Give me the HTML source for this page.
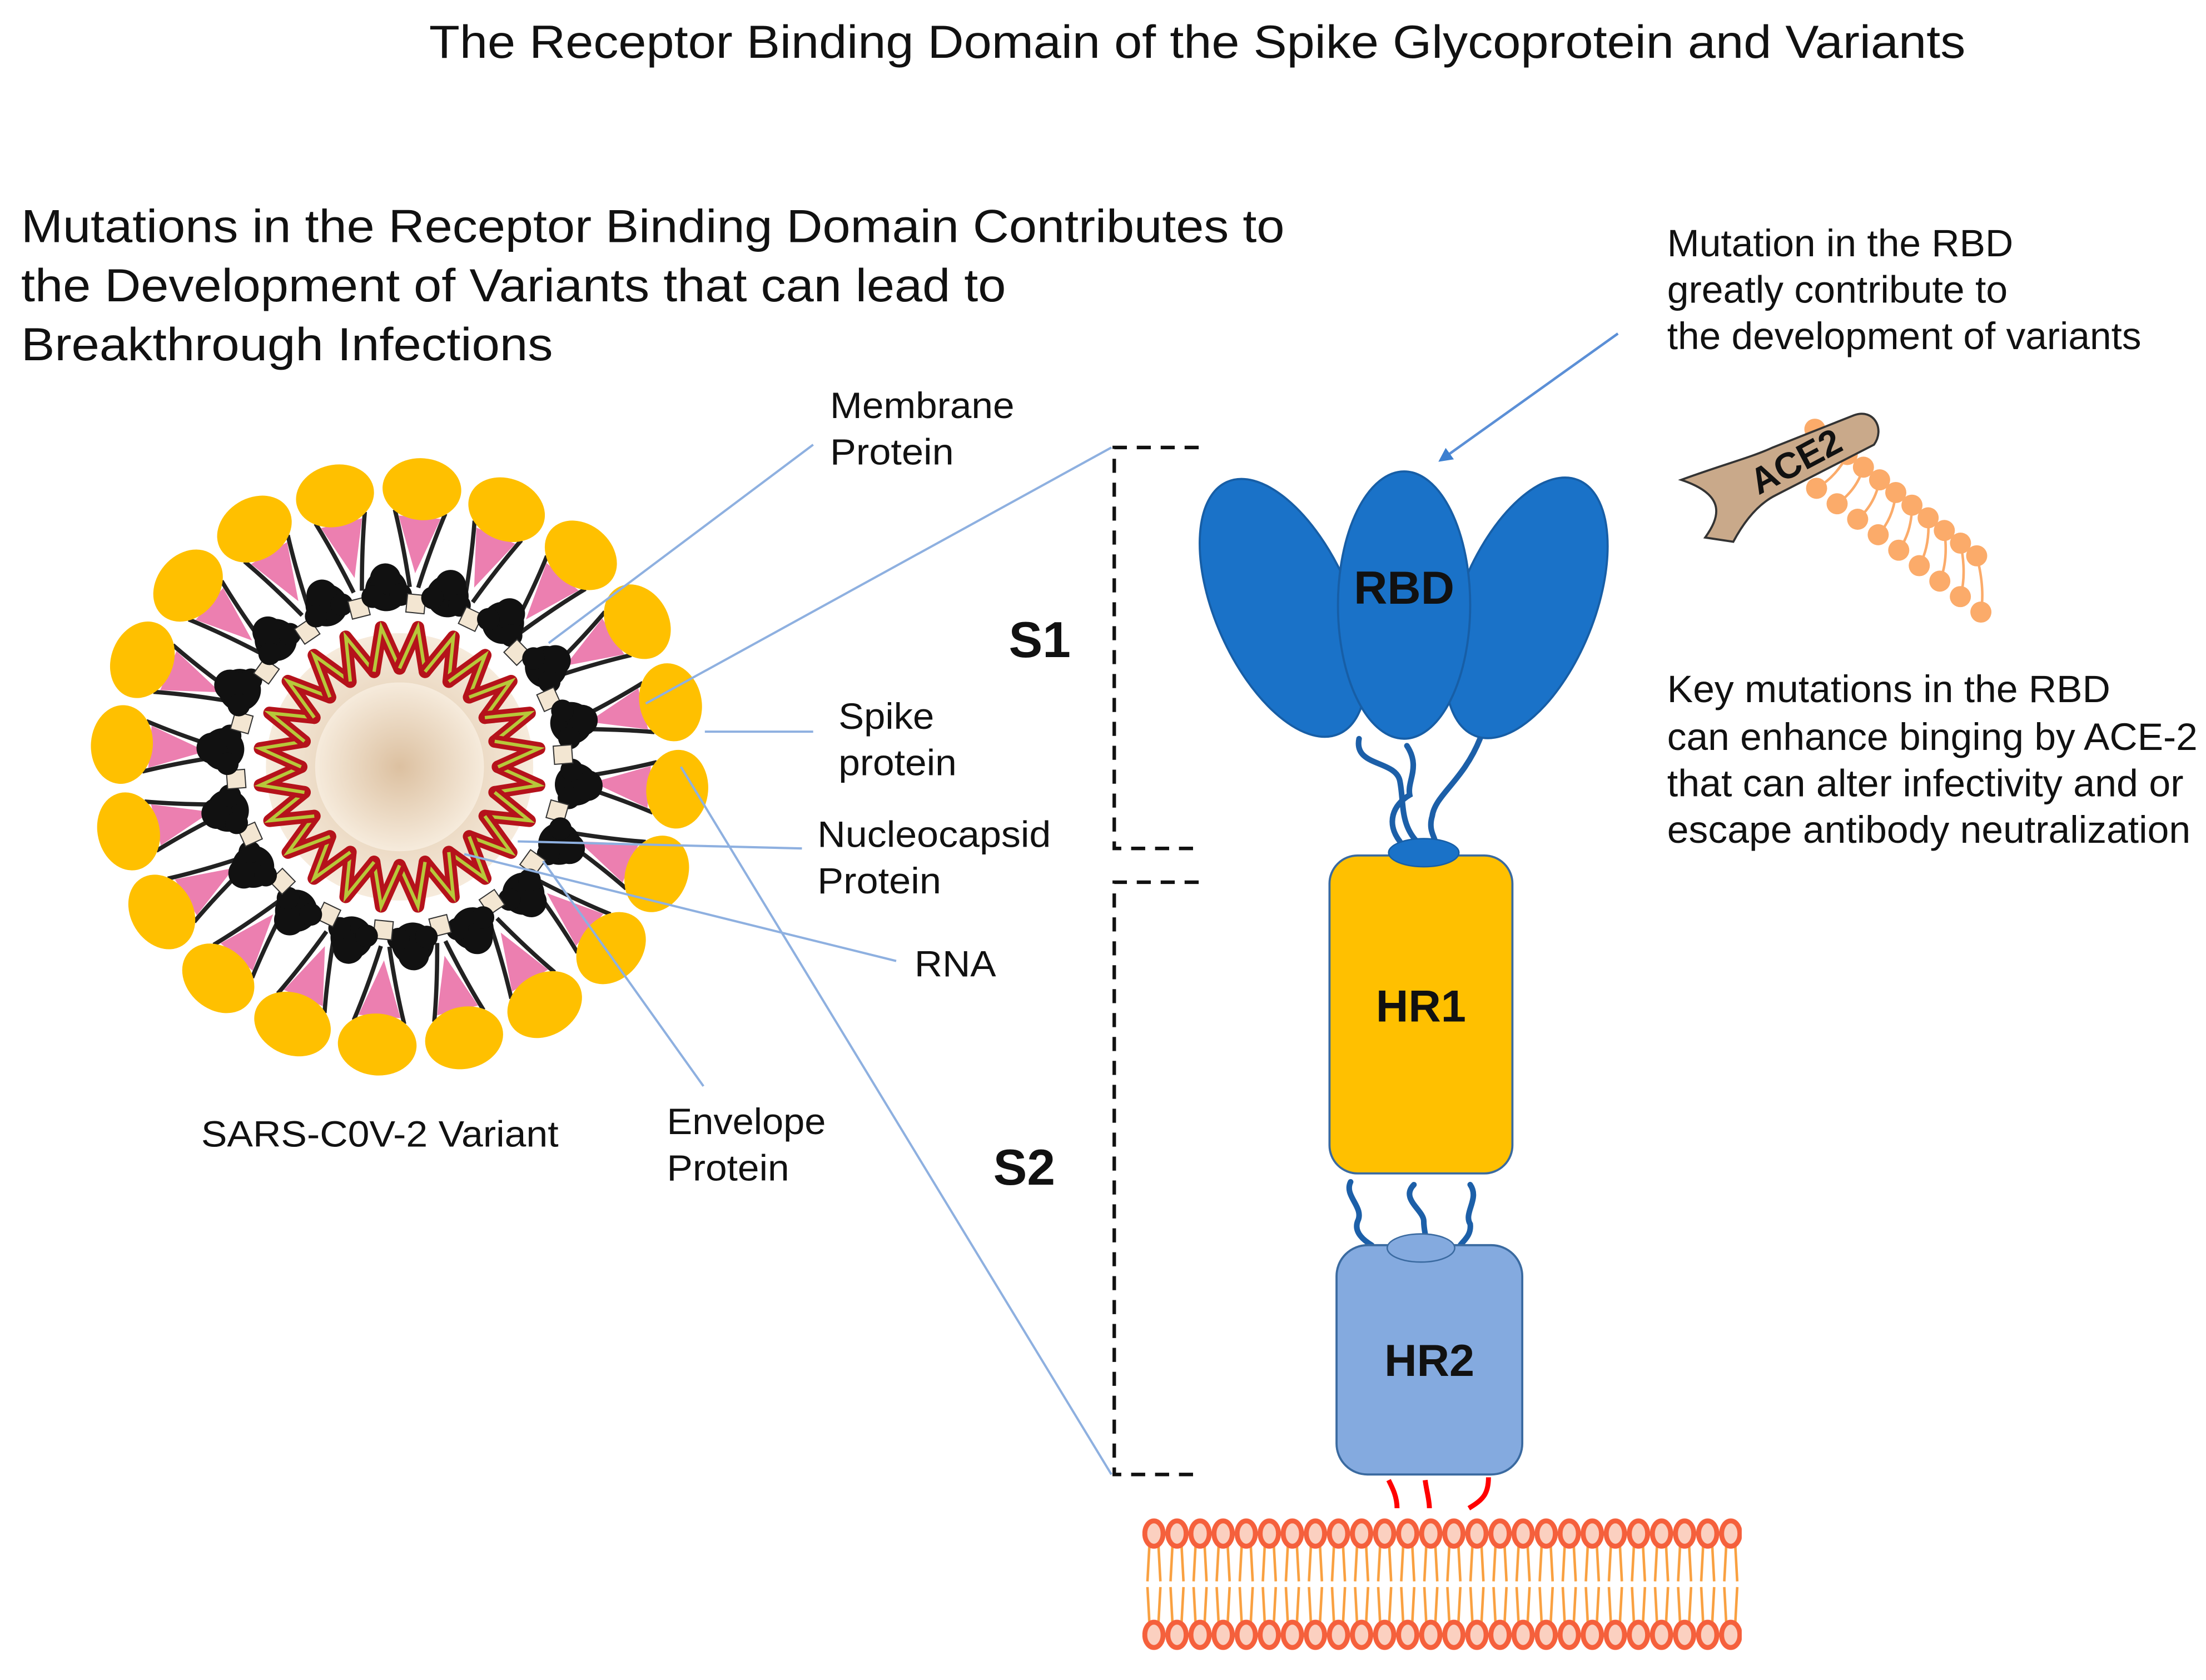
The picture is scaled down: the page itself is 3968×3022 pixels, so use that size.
<!DOCTYPE html>
<html><head><meta charset="utf-8"><style>
html,body{margin:0;padding:0;background:#fff;}
svg{display:block;}
text{font-family:"Liberation Sans",Arial,sans-serif;fill:#111;}
</style></head><body>
<svg width="3968" height="3022" viewBox="0 0 1568 1194" xmlns="http://www.w3.org/2000/svg" xmlns:xlink="http://www.w3.org/1999/xlink">
<defs>
<radialGradient id="core" cx="50%" cy="50%" r="50%"><stop offset="0" stop-color="#dcc0a0"/><stop offset="1" stop-color="#f6ebdc"/></radialGradient>
<marker id="ar" markerWidth="10" markerHeight="10" refX="8" refY="5" orient="auto" markerUnits="userSpaceOnUse"><path d="M0,0 L10,5 L0,10 z" fill="#3c7fd0"/></marker>
<g id="spk">
<polygon points="178,-15 178,15 138,0" fill="#ec7fb0"/>
<path d="M128,-3 Q158,-10 182,-18 M128,3 Q158,10 182,18" stroke="#222" stroke-width="3" fill="none"/>
<ellipse cx="198" cy="0" rx="22" ry="28" fill="#ffc000"/>
</g>
<g id="blb">
<circle cx="126" cy="0" r="15" fill="#111"/>
<circle cx="134" cy="0" r="11" fill="#111"/>
<circle cx="122" cy="-10" r="8" fill="#111"/>
<circle cx="122" cy="10" r="8" fill="#111"/>
<g transform="rotate(10)"><rect x="110" y="-6.5" width="13" height="13" fill="#f3e6d2" stroke="#333" stroke-width="0.8"/></g>
</g>
<g id="zz">
<path d="M70,0 L99.14,13.05 L67.61,18.12" fill="none" stroke="#b5121b" stroke-width="9" stroke-linejoin="round" stroke-linecap="round"/>
<path d="M70,0 L99.14,13.05 L67.61,18.12" fill="none" stroke="#b7c83a" stroke-width="2.4"/>
</g>
<pattern id="lip" x="812" y="1076" width="16.4" height="100" patternUnits="userSpaceOnUse">
<path d="M5,22 L3.6,48 M11.4,22 L12.8,48 M3.6,52 L5,78 M12.8,52 L11.4,78" stroke="#f9a040" stroke-width="1.8" fill="none"/>
<ellipse cx="8.2" cy="14" rx="6.5" ry="9" fill="#fbd0c0" stroke="#f5603c" stroke-width="3.5"/>
<ellipse cx="8.2" cy="86" rx="6.5" ry="9" fill="#fbd0c0" stroke="#f5603c" stroke-width="3.5"/>
</pattern>
</defs>
<rect width="1568" height="1194" fill="#fff"/>
<text x="305" y="41" font-size="33" textLength="1092" lengthAdjust="spacingAndGlyphs">The Receptor Binding Domain of the Spike Glycoprotein and Variants</text>
<text x="15" y="172" font-size="33" textLength="898" lengthAdjust="spacingAndGlyphs">Mutations in the Receptor Binding Domain Contributes to</text>
<text x="15" y="214" font-size="33" textLength="700" lengthAdjust="spacingAndGlyphs">the Development of Variants that can lead to</text>
<text x="15" y="256" font-size="33" textLength="378" lengthAdjust="spacingAndGlyphs">Breakthrough Infections</text>

<!-- virus -->
<g transform="translate(284,545)">
<use href="#spk" transform="rotate(4.6)"/><use href="#spk" transform="rotate(22.6)"/><use href="#spk" transform="rotate(40.6)"/><use href="#spk" transform="rotate(58.6)"/><use href="#spk" transform="rotate(76.6)"/>
<use href="#spk" transform="rotate(94.6)"/><use href="#spk" transform="rotate(112.6)"/><use href="#spk" transform="rotate(130.6)"/><use href="#spk" transform="rotate(148.6)"/><use href="#spk" transform="rotate(166.6)"/>
<use href="#spk" transform="rotate(184.6)"/><use href="#spk" transform="rotate(202.6)"/><use href="#spk" transform="rotate(220.6)"/><use href="#spk" transform="rotate(238.6)"/><use href="#spk" transform="rotate(256.6)"/>
<use href="#spk" transform="rotate(274.6)"/><use href="#spk" transform="rotate(292.6)"/><use href="#spk" transform="rotate(310.6)"/><use href="#spk" transform="rotate(328.6)"/><use href="#spk" transform="rotate(346.6)"/>
<use href="#blb" transform="rotate(5.7)"/><use href="#blb" transform="rotate(25.7)"/><use href="#blb" transform="rotate(45.7)"/><use href="#blb" transform="rotate(65.7)"/><use href="#blb" transform="rotate(85.7)"/><use href="#blb" transform="rotate(105.7)"/>
<use href="#blb" transform="rotate(125.7)"/><use href="#blb" transform="rotate(145.7)"/><use href="#blb" transform="rotate(165.7)"/><use href="#blb" transform="rotate(185.7)"/><use href="#blb" transform="rotate(205.7)"/><use href="#blb" transform="rotate(225.7)"/>
<use href="#blb" transform="rotate(245.7)"/><use href="#blb" transform="rotate(265.7)"/><use href="#blb" transform="rotate(285.7)"/><use href="#blb" transform="rotate(305.7)"/><use href="#blb" transform="rotate(325.7)"/><use href="#blb" transform="rotate(345.7)"/>
<circle cx="0" cy="0" r="95" fill="url(#core)"/>
<use href="#zz" transform="rotate(0)"/><use href="#zz" transform="rotate(15)"/><use href="#zz" transform="rotate(30)"/><use href="#zz" transform="rotate(45)"/><use href="#zz" transform="rotate(60)"/><use href="#zz" transform="rotate(75)"/>
<use href="#zz" transform="rotate(90)"/><use href="#zz" transform="rotate(105)"/><use href="#zz" transform="rotate(120)"/><use href="#zz" transform="rotate(135)"/><use href="#zz" transform="rotate(150)"/><use href="#zz" transform="rotate(165)"/>
<use href="#zz" transform="rotate(180)"/><use href="#zz" transform="rotate(195)"/><use href="#zz" transform="rotate(210)"/><use href="#zz" transform="rotate(225)"/><use href="#zz" transform="rotate(240)"/><use href="#zz" transform="rotate(255)"/>
<use href="#zz" transform="rotate(270)"/><use href="#zz" transform="rotate(285)"/><use href="#zz" transform="rotate(300)"/><use href="#zz" transform="rotate(315)"/><use href="#zz" transform="rotate(330)"/><use href="#zz" transform="rotate(345)"/>
<circle cx="0" cy="0" r="60" fill="url(#core)"/>
</g>

<!-- leader lines -->
<g stroke="#8eb0e0" stroke-width="1.6" fill="none">
<line x1="390" y1="457" x2="578" y2="316"/>
<line x1="459" y1="500" x2="790" y2="318"/>
<line x1="501" y1="520" x2="578" y2="520"/>
<line x1="484" y1="545" x2="790" y2="1048"/>
<line x1="368" y1="598" x2="570" y2="603"/>
<line x1="330" y1="607" x2="637" y2="683"/>
<line x1="386" y1="612" x2="500" y2="772"/>
</g>
<g font-size="26">
<text x="590" y="297" textLength="131" lengthAdjust="spacingAndGlyphs">Membrane</text><text x="590" y="330" textLength="88" lengthAdjust="spacingAndGlyphs">Protein</text>
<text x="596" y="518" textLength="68" lengthAdjust="spacingAndGlyphs">Spike</text><text x="596" y="551" textLength="84" lengthAdjust="spacingAndGlyphs">protein</text>
<text x="581" y="602" textLength="166" lengthAdjust="spacingAndGlyphs">Nucleocapsid</text><text x="581" y="635" textLength="88" lengthAdjust="spacingAndGlyphs">Protein</text>
<text x="650" y="694" textLength="58" lengthAdjust="spacingAndGlyphs">RNA</text>
<text x="474" y="806" textLength="113" lengthAdjust="spacingAndGlyphs">Envelope</text><text x="474" y="839" textLength="87" lengthAdjust="spacingAndGlyphs">Protein</text>
<text x="143" y="815" textLength="254" lengthAdjust="spacingAndGlyphs">SARS-C0V-2 Variant</text>
</g>

<!-- brackets -->
<g stroke="#111" stroke-width="2.5" stroke-dasharray="10,7" fill="none">
<path d="M852,318 H792 V603 H852"/>
<path d="M852,627 H792 V1048 H852"/>
</g>
<text x="717" y="467" font-size="36" font-weight="bold">S1</text>
<text x="706" y="842" font-size="36" font-weight="bold">S2</text>

<!-- linkers -->
<g stroke="#1c5fa8" stroke-width="4" fill="none" stroke-linecap="round">
<path d="M966,525 C962,545 992,540 995,555 C998,570 995,585 1007,598"/>
<path d="M1000,530 C1010,545 1000,555 1002,565 C990,572 985,585 995,598"/>
<path d="M1052,525 C1040,555 1020,565 1018,580 C1015,590 1020,595 1020,598"/>
<path d="M960,840 C955,850 970,858 965,868 C962,876 970,882 975,885"/>
<path d="M1005,842 C995,852 1012,860 1012,868 C1012,876 1015,882 1013,885"/>
<path d="M1045,842 C1052,852 1040,862 1045,870 C1046,878 1040,882 1038,885"/>
</g>
<!-- RBD -->
<g fill="#1a72c8" stroke="#175ea6" stroke-width="1.5">
<ellipse cx="912" cy="432" rx="48" ry="98" transform="rotate(-24 912 432)"/>
<ellipse cx="1085" cy="432" rx="48" ry="98" transform="rotate(22 1085 432)"/>
<ellipse cx="998" cy="430" rx="47" ry="95"/>
</g>
<text x="998" y="429" font-size="33" font-weight="bold" text-anchor="middle">RBD</text>
<rect x="945" y="608" width="130" height="226" rx="20" fill="#ffc000" stroke="#3a6aa0" stroke-width="1.5"/>
<ellipse cx="1012" cy="606" rx="25" ry="10" fill="#1a72c8" stroke="#175ea6"/>
<text x="1010" y="726" font-size="32" font-weight="bold" text-anchor="middle">HR1</text>
<rect x="950" y="885" width="132" height="163" rx="22" fill="#84aadf" stroke="#3a6aa0" stroke-width="1.5"/>
<ellipse cx="1010" cy="887" rx="24" ry="10" fill="#84aadf" stroke="#3a6aa0"/>
<text x="1016" y="978" font-size="32" font-weight="bold" text-anchor="middle">HR2</text>
<g stroke="#f00" stroke-width="3.5" fill="none">
<path d="M987,1052 C990,1058 993,1064 993,1072"/>
<path d="M1013,1052 C1014,1060 1016,1066 1016,1072"/>
<path d="M1058,1050 C1058,1062 1054,1066 1044,1072"/>
</g>
<rect x="812" y="1076" width="426" height="100" fill="url(#lip)"/>

<!-- right side -->
<g font-size="27">
<text x="1185" y="182" textLength="246" lengthAdjust="spacingAndGlyphs">Mutation in the RBD</text>
<text x="1185" y="215" textLength="242" lengthAdjust="spacingAndGlyphs">greatly contribute to</text>
<text x="1185" y="248" textLength="337" lengthAdjust="spacingAndGlyphs">the development of variants</text>
<text x="1185" y="499" textLength="315" lengthAdjust="spacingAndGlyphs">Key mutations in the RBD</text>
<text x="1185" y="533" textLength="377" lengthAdjust="spacingAndGlyphs">can enhance binging by ACE-2</text>
<text x="1185" y="566" textLength="367" lengthAdjust="spacingAndGlyphs">that can alter infectivity and or</text>
<text x="1185" y="599" textLength="372" lengthAdjust="spacingAndGlyphs">escape antibody neutralization</text>
</g>
<line x1="1150" y1="237" x2="1024" y2="327" stroke="#5b8fd6" stroke-width="1.8" marker-end="url(#ar)"/>
<g stroke="#fbab6a" stroke-width="1.8" fill="none">
<path d="M1290,305 Q1280,318 1262,325 M1301.5,314 Q1293,328 1276.6,336 M1313,323 Q1306,338 1291.2,347 M1324.5,332 Q1320,348 1305.8,358 M1336,341 Q1333,358 1320.4,369 M1347.5,350 Q1346,368 1335,380 M1359,359 Q1359,378 1349.6,391 M1370.5,368 Q1372,388 1364.2,402 M1382,377 Q1385,398 1378.8,413 M1393.5,386 Q1398,408 1393.4,424 M1405,395 Q1411,418 1408,435"/>
</g>
<g fill="#fbab6a">
<circle cx="1290" cy="305" r="7.5"/><circle cx="1301.5" cy="314" r="7.5"/><circle cx="1313" cy="323" r="7.5"/><circle cx="1324.5" cy="332" r="7.5"/><circle cx="1336" cy="341" r="7.5"/><circle cx="1347.5" cy="350" r="7.5"/><circle cx="1359" cy="359" r="7.5"/><circle cx="1370.5" cy="368" r="7.5"/><circle cx="1382" cy="377" r="7.5"/><circle cx="1393.5" cy="386" r="7.5"/><circle cx="1405" cy="395" r="7.5"/>
<circle cx="1262" cy="325" r="7.5"/><circle cx="1276.6" cy="336" r="7.5"/><circle cx="1291.2" cy="347" r="7.5"/><circle cx="1305.8" cy="358" r="7.5"/><circle cx="1320.4" cy="369" r="7.5"/><circle cx="1335" cy="380" r="7.5"/><circle cx="1349.6" cy="391" r="7.5"/><circle cx="1364.2" cy="402" r="7.5"/><circle cx="1378.8" cy="413" r="7.5"/><circle cx="1393.4" cy="424" r="7.5"/><circle cx="1408" cy="435" r="7.5"/>
</g>
<path d="M1195,341 C1225,330 1245,325 1260,318 L1318,295 C1332,290 1340,305 1332,316 L1262,352 C1250,358 1240,370 1232,385 L1212,382 C1222,368 1228,352 1195,341 z" fill="#c9a98a" stroke="#333" stroke-width="1.5"/>
<text x="0" y="0" font-size="26" font-weight="bold" transform="translate(1250,352) rotate(-28)">ACE2</text>
</svg>
</body></html>
